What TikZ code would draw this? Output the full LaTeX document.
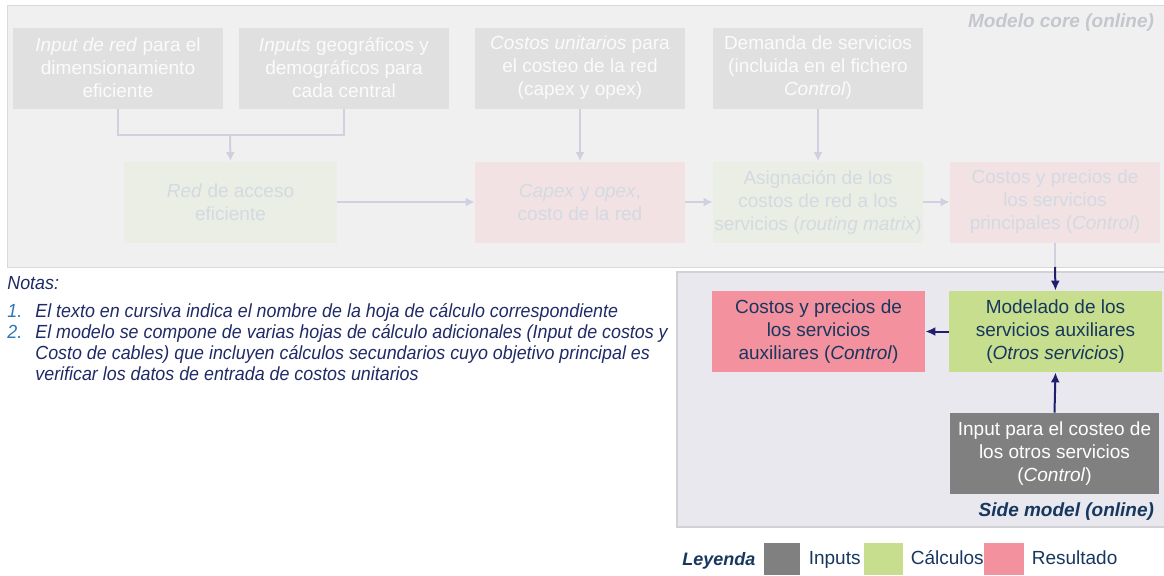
\documentclass[tikz,border=0pt]{standalone}
\usepackage{fontspec}
\setmainfont{Liberation Sans}
\newfontfamily\notefont[FakeStretch=0.94]{Liberation Sans}
\usepackage{xcolor}
\usetikzlibrary{positioning, arrows.meta}

\definecolor{coreFill}{HTML}{F0F0F0}
\definecolor{coreLine}{HTML}{D9D9D9}
\definecolor{sideFill}{HTML}{E8E8EE}
\definecolor{sideLine}{HTML}{D2D2D6}
\definecolor{inputFill}{HTML}{808080}
\definecolor{calcFill}{HTML}{C6DE8E}
\definecolor{resFill}{HTML}{F4919E}
\definecolor{navy}{HTML}{17375E}
\definecolor{arrowNavy}{HTML}{1F1F6E}
\definecolor{numBlue}{HTML}{2E75B6}
\definecolor{noteText}{HTML}{1F2A66}
\definecolor{fadeGray}{HTML}{E0E0E0}
\definecolor{fadeGreen}{HTML}{EAEEE4}
\definecolor{fadePink}{HTML}{F2E2E4}
\definecolor{fadeText}{HTML}{D3DAE1}
\definecolor{fadeLine}{HTML}{D0D0E0}
\definecolor{coreLabel}{HTML}{C4C7CE}

\begin{document}
\begin{tikzpicture}[
    x=0.5pt, y=-0.5pt,
    font=\fontsize{9.5}{11.5}\selectfont,
    box/.style={rectangle, minimum width=105pt, minimum height=40.5pt, align=center, inner sep=0pt},
    fadein/.style={box, fill=fadeGray, text=white!97!gray},
    fadecalc/.style={box, fill=fadeGreen, text=fadeText},
    faderes/.style={box, fill=fadePink, text=fadeText},
    fline/.style={line width=1pt, draw=fadeLine},
    farrow/.style={fline, -{Latex[length=4.5pt, width=4.5pt]}},
    arrow/.style={line width=1pt, draw=arrowNavy, -{Latex[length=5pt, width=4.5pt]}},
    swatch/.style={rectangle, minimum width=18pt, minimum height=16pt, inner sep=0pt},
    legtext/.style={text=navy, inner sep=0pt, text height=7pt, text depth=2pt}
]
\useasboundingbox (0,0) rectangle (1164,575);

% Panels
\draw[coreLine, fill=coreFill] (7,5) rectangle (1170,267);
\draw[sideLine, line width=1pt, fill=sideFill] (677,272) rectangle (1170,527);

% Core model (faded)
\node[fadein] (netin) at (118,68) {\textit{Input de red} para el\\dimensionamiento\\eficiente};
\node[fadein] (geoin) at (344,68) {\textit{Inputs} geográficos y\\demográficos para\\cada central};
\node[fadein] (unitcost) at (580,68) {\textit{Costos unitarios} para\\el costeo de la red\\(capex y opex)};
\node[fadein] (demand) at (818,68) {Demanda de servicios\\(incluida en el fichero\\\textit{Control})};

\node[fadecalc, minimum width=106.5pt] (accnet) at (230.5,202) {\textit{Red} de acceso\\eficiente};
\node[faderes] (capex) at (580,202) {\textit{Capex} y \textit{opex},\\costo de la red};
\node[fadecalc] (alloc) at (818,202) {Asignación de los\\costos de red a los\\servicios (\textit{routing matrix})};
\node[faderes] (mainsrv) at (1055,202) {Costos y precios de\\los servicios\\principales (\textit{Control})};

\node[font=\fontsize{9.5}{11.5}\selectfont\bfseries\itshape, text=coreLabel, anchor=east] (corelbl) at (1161,23) {Modelo core (online)};

% Core connectors
\coordinate (join) at (230,135);
\draw[fline] (netin.south) |- (join) -| (geoin.south);
\draw[farrow] (join) -- (accnet.north);
\draw[farrow] (accnet.east) -- (capex.west);
\draw[farrow] (capex.east) -- (alloc.west);
\draw[farrow] (alloc.east) -- (mainsrv.west);
\draw[farrow] (unitcost.south) -- (capex.north);
\draw[farrow] (demand.south) -- (alloc.north);

% Side model
\node[box, fill=resFill, text=navy, minimum width=106.5pt] (auxres) at (818.5,331.5) {Costos y precios de\\los servicios\\auxiliares (\textit{Control})};
\node[box, fill=calcFill, text=navy, minimum width=106.5pt] (auxcalc) at (1055.5,331.5) {Modelado de los\\servicios auxiliares\\(\textit{Otros servicios})};
\node[box, fill=inputFill, text=white, minimum width=104.5pt] (auxin) at (1054.5,453.5) {Input para el costeo de\\los otros servicios\\(\textit{Control})};

\node[font=\fontsize{9.5}{11.5}\selectfont\bfseries\itshape, text=navy, anchor=east] (sidelbl) at (1161,512) {Side model (online)};

% Side connectors
\coordinate (edge) at (1055,267);
\draw[fline] (mainsrv.south) -- (edge);
\draw[arrow] (edge) -- (auxcalc.north);
\draw[arrow] (auxcalc.west) -- (auxres.east);
\draw[arrow] (auxin.north) -- (auxcalc.south);

% Notes
\node[anchor=north west, align=left, inner sep=0pt, text=noteText,
      font=\notefont\itshape\fontsize{9.5}{10.5}\selectfont] (notes) at (7,276)
  {Notas:\\[3.5pt]
   \makebox[14pt][l]{\color{numBlue}1.}El texto en cursiva indica el nombre de la hoja de cálculo correspondiente\\
   \makebox[14pt][l]{\color{numBlue}2.}El modelo se compone de varias hojas de cálculo adicionales (Input de costos y\\
   \hspace*{14pt}Costo de cables) que incluyen cálculos secundarios cuyo objetivo principal es\\
   \hspace*{14pt}verificar los datos de entrada de costos unitarios};

% Legend
\node[font=\fontsize{9}{11}\selectfont\bfseries\itshape, legtext, anchor=west] (leglbl) at (682,560) {Leyenda};
\node[swatch, fill=inputFill] (legin) at (782,559) {};
\node[legtext, right=4pt of legin] (legintxt) {Inputs};
\node[swatch, fill=calcFill, minimum width=19.5pt] (legcalc) at (883.5,559) {};
\node[legtext, right=3.5pt of legcalc] (legcalctxt) {Cálculos};
\node[swatch, fill=resFill, minimum width=20pt] (legres) at (1004,559) {};
\node[legtext, right=3.5pt of legres] (legrestxt) {Resultado};

\end{tikzpicture}
\end{document}
